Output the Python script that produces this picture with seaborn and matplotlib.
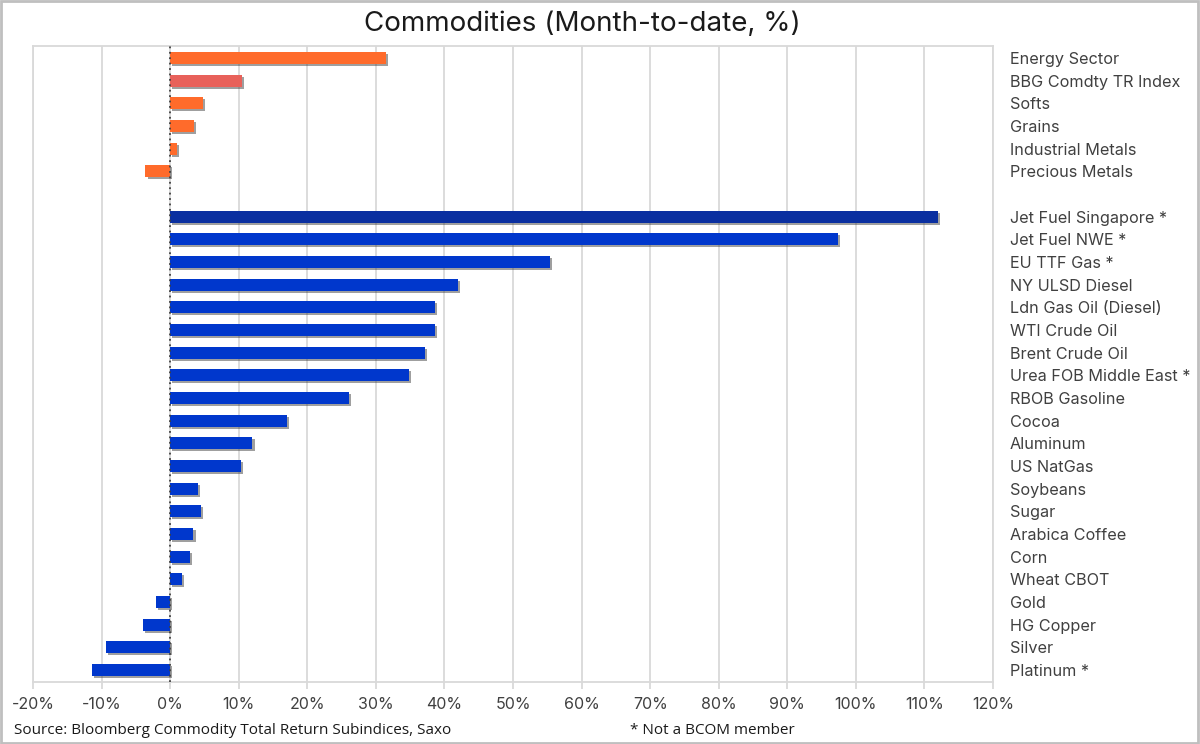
import matplotlib
matplotlib.use('Agg')
import seaborn as sns
import matplotlib.pyplot as plt
import matplotlib.patheffects as pe
import pandas as pd

# data (month-to-date % change)
sectors = ['Energy Sector', 'BBG Comdty TR Index', 'Softs', 'Grains',
           'Industrial Metals', 'Precious Metals']
sector_vals = [31.5, 10.5, 4.8, 3.5, 1.0, -3.6]

markets = ['Jet Fuel Singapore *', 'Jet Fuel NWE *', 'EU TTF Gas *', 'NY ULSD Diesel',
           'Ldn Gas Oil (Diesel)', 'WTI Crude Oil', 'Brent Crude Oil',
           'Urea FOB Middle East *', 'RBOB Gasoline', 'Cocoa', 'Aluminum',
           'US NatGas', 'Soybeans', 'Sugar', 'Arabica Coffee', 'Corn',
           'Wheat CBOT', 'Gold', 'HG Copper', 'Silver', 'Platinum *']
market_vals = [112.0, 97.4, 55.4, 42.0, 38.6, 38.6, 37.1, 34.8, 26.1, 17.1, 12.0,
               10.3, 4.1, 4.5, 3.4, 2.9, 1.7, -2.1, -3.9, -9.4, -11.4]

xticks = list(range(-20, 130, 10))

orange = '#FF6B2B'
blue = '#0037CC'
colors = {k: orange for k in sectors}
colors['BBG Comdty TR Index'] = '#E8615A'
colors.update({k: blue for k in markets})
colors['Jet Fuel Singapore *'] = '#0A2FA0'

df = pd.DataFrame({'name': sectors + markets, 'value': sector_vals + market_vals})
order = sectors + [' '] + markets

sns.set_style('white')
plt.rcParams['font.family'] = ['Inter', 'DejaVu Sans']

fig = plt.figure(figsize=(12, 7.44), dpi=100)
ax = fig.add_axes([33/1200, 62/744, 960/1200, 636/744])

sns.barplot(data=df, x='value', y='name', hue='name', order=order, palette=colors,
            orient='h', width=0.53, legend=False, ax=ax, saturation=1)

for p in ax.patches:
    p.set_linewidth(0)
    p.set_path_effects([pe.SimplePatchShadow(offset=(1.5, -1.5), shadow_rgbFace='#404040', alpha=0.5),
                        pe.Normal()])

ax.axvline(0, color='#404040', ls=(0, (1, 2)), lw=1.3, zorder=3)
ax.set_xlim(-20, 120)
ax.set_ylim(len(order) - 0.47, -0.53)
ax.set_xticks(xticks)
ax.set_xticklabels([f'{t}%' for t in xticks], fontsize=11.5, color='#404040')
ax.xaxis.grid(True, color='#D9D9D9', lw=1.3)
ax.set_axisbelow(True)
ax.tick_params(axis='x', length=5, color='#D9D9D9', width=1.3, pad=6, bottom=True)
ax.yaxis.tick_right()
ax.tick_params(axis='y', length=0, pad=12, labelsize=11.7, labelcolor='#404040')
ax.set_xlabel('')
ax.set_ylabel('')
for s in ax.spines.values():
    s.set_color('#D9D9D9')
    s.set_linewidth(1.3)

fig.text(582/1200, 1 - 24/744, 'Commodities (Month-to-date, %)', ha='center', va='center',
         fontsize=20, color='#1a1a1a')
fig.text(14/1200, 1 - 731/744, 'Source: Bloomberg Commodity Total Return Subindices, Saxo',
         ha='left', va='center', fontsize=11, color='#1a1a1a', family=['Open Sans', 'DejaVu Sans'])
fig.text(630/1200, 1 - 731/744, '* Not a BCOM member', ha='left', va='center',
         fontsize=11, color='#1a1a1a', family=['Open Sans', 'DejaVu Sans'])

fig.patches.append(plt.Rectangle((0.001, 0.001), 0.997, 0.997, transform=fig.transFigure,
                                 fill=False, edgecolor='#BFBFBF', lw=2))

fig.savefig('out.png', dpi=100)
